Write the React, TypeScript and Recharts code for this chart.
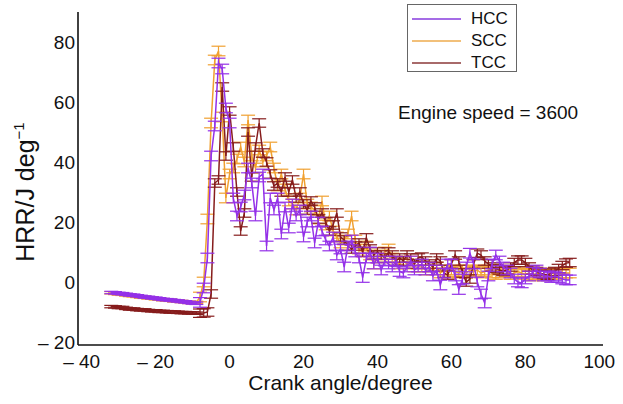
import { LineChart, Line, XAxis, YAxis, ErrorBar, Label } from "recharts";

const FONT = '"Liberation Sans", Arial, Helvetica, sans-serif';

// crank angle, degrees
const CRANK_ANGLE = [
  -32, -31, -30, -29, -28, -27, -26, -25, -24, -23,
  -22, -21, -20, -19, -18, -17, -16, -15, -14, -13,
  -12, -11, -10, -9, -8, -7, -6, -5, -4, -3,
  -2, -1, 0, 1, 2, 3, 4, 5, 6, 7,
  8, 9, 10, 11, 12, 13, 14, 15, 16, 17,
  18, 19, 20, 21, 22, 23, 24, 25, 26, 27,
  28, 29, 30, 31, 32, 33, 34, 35, 36, 37,
  38, 39, 40, 41, 42, 43, 44, 45, 46, 47,
  48, 49, 50, 51, 52, 53, 54, 55, 56, 57,
  58, 59, 60, 61, 62, 63, 64, 65, 66, 67,
  68, 69, 70, 71, 72, 73, 74, 75, 76, 77,
  78, 79, 80, 81, 82, 83, 84, 85, 86, 87,
  88, 89, 90, 91, 92,
];

// heat release rate, J/deg
const HCC = [
  -3.5, -3.6, -3.8, -3.9, -4.1, -4.3, -4.4, -4.6, -4.8, -5.0,
  -5.1, -5.3, -5.4, -5.6, -5.8, -5.9, -6.0, -6.2, -6.3, -6.5,
  -6.6, -6.8, -7.0, -7.1, -6.8, -2, 8, 42, 52, 73,
  71, 58, 53, 28, 22, 25, 29, 38, 33, 22,
  35, 36, 12, 28, 24, 28, 16, 25, 18, 26,
  22, 24, 15, 20, 22, 13, 20, 17, 14, 12,
  15, 9, 11, 5, 12, 14, 10, 8, 1.5, 8,
  10, 6, 8, 4, 7, 6, 5, 7, 3.5, 3,
  5, 7, 4, 5, 6, 4, 5, 2, 4, -1,
  3, 6, 6, 2, -2.5, 1, 5, 9.6, 6, 0,
  -4, -7, 2, 6, 9, 7, 5, 4, 3, 1,
  0, -0.3, 1, 2, 3.3, 4, 3, 2, 2, 1.5,
  2, 1.5, 1, 0.7, 0.7,
];

const SCC = [
  -3.6, -3.8, -4.0, -4.1, -4.3, -4.5, -4.6, -4.8, -5.0, -5.1,
  -5.3, -5.4, -5.6, -5.7, -5.9, -6.0, -6.1, -6.3, -6.4, -6.5,
  -6.6, -6.8, -6.9, -6.8, -5, 0, 21, 53, 74, 77,
  55, 28, 36, 38, 41, 45, 40, 54, 42, 38,
  44, 40, 42, 45, 38, 32, 36, 31, 27, 26,
  24, 28, 36, 26, 25, 24, 21, 27, 19, 22,
  17, 15, 13, 14, 16, 22, 14, 11, 10, 12,
  9, 6, 8, 9, 10, 11, 8, 7, 6, 7,
  6, 7, 5, 6, 5, 4, 5, 4, 5, 3,
  4, 3, 4, 3.5, 3, 4, 3, 4, 3.5, 4,
  3, 3.5, 4, 3, 2.5, 3, 4, 3.5, 2.5, 3,
  3.5, 3, 2.5, 3, 2, 2.5, 3, 2, 2.5, 3,
  2.5, 3, 2.5, 3, 3,
];

const TCC = [
  -8.2, -8.3, -8.5, -8.5, -8.8, -9.0, -9.0, -9.2, -9.3, -9.3,
  -9.5, -9.6, -9.6, -9.8, -9.8, -9.9, -10.0, -10.0, -10.1, -10.2,
  -10.2, -10.3, -10.3, -10.4, -10.4, -10.3, -10.0, -4, 33, 34,
  65, 42, 57, 45, 30, 17, 23, 50, 35, 45,
  53, 43, 40, 36, 32, 33, 30, 35, 30, 34,
  28, 30, 26, 24, 27, 25, 21, 23, 20, 17,
  19, 23, 15, 14, 12, 11, 12, 13, 10, 14.7,
  11, 9, 10, 9, 8, 10, 9, 7, 8, 7,
  9, 8, 6, 8, 8.3, 7, 6, 5, 8, 7,
  3, 2.3, 6, 9, 7, 3, 0, 1, 6, 9.6,
  9, 7, 6, 5, 4.5, 4, 3.5, 4, 5, 6.5,
  7.3, 7.3, 6.5, 5, 4, 3.5, 3, 2.5, 2.3, 3,
  3.5, 4.5, 5.5, 6.3, 6.5,
];

// half-width of the error bars (small before ignition)
const IGNITION = -8;
const PRE_ERR = 0.4;
const HCC_ERR = 1.6;
const SCC_ERR = 1.6;
const TCC_ERR = 1.4;

const X_TICKS = [-40, -20, 0, 20, 40, 60, 80, 100];
const Y_TICKS = [-20, 0, 20, 40, 60, 80];

const COLORS = { hcc: "#9430e8", scc: "#f0a030", tcc: "#861c1c" };

const data = CRANK_ANGLE.map((x, i) => {
  const pre = x < IGNITION;
  return {
    x,
    hcc: HCC[i],
    scc: SCC[i],
    tcc: TCC[i],
    hccErr: pre ? PRE_ERR : HCC_ERR,
    sccErr: pre ? PRE_ERR : SCC_ERR,
    tccErr: pre ? PRE_ERR : TCC_ERR,
  };
});

const fmt = (v: number) => (v < 0 ? `\u2013 ${Math.abs(v)}` : `${v}`);

const tickStyle = { fontSize: 19, fill: "#111", fontFamily: FONT };

const LEGEND = [
  { name: "HCC", color: "#a56ce6" },
  { name: "SCC", color: "#f2c07a" },
  { name: "TCC", color: "#a86a6a" },
];

export default function App() {
  return (
    <div
      style={{
        position: "absolute",
        left: 0,
        top: 0,
        width: 623,
        height: 404,
        background: "#fff",
        fontFamily: FONT,
      }}
    >
      <LineChart
        width={623}
        height={404}
        data={data}
        margin={{ top: 12, right: 20, bottom: 29, left: 0 }}
      >
        <XAxis
          dataKey="x"
          type="number"
          domain={[-41, 101]}
          ticks={X_TICKS}
          tickFormatter={fmt}
          tickLine={false}
          tickMargin={4}
          axisLine={{ stroke: "#111", strokeWidth: 1.6 }}
          tick={tickStyle}
          height={30}
          allowDataOverflow
        >
          <Label
            value="Crank angle/degree"
            position="bottom"
            offset={0}
            style={{ fontSize: 21, fill: "#111", fontFamily: FONT }}
          />
        </XAxis>
        <YAxis
          type="number"
          domain={[-21, 90]}
          ticks={Y_TICKS}
          tickFormatter={fmt}
          tickLine={false}
          tickSize={0}
          tickMargin={3}
          axisLine={{ stroke: "#111", strokeWidth: 1.6 }}
          tick={tickStyle}
          width={78}
          allowDataOverflow
        />
        <Line
          dataKey="scc"
          stroke={COLORS.scc}
          strokeWidth={1.5}
          dot={false}
          isAnimationActive={false}
        >
          <ErrorBar dataKey="sccErr" width={7} stroke={COLORS.scc} strokeWidth={1.2} direction="y" />
        </Line>
        <Line
          dataKey="tcc"
          stroke={COLORS.tcc}
          strokeWidth={1.5}
          dot={false}
          isAnimationActive={false}
        >
          <ErrorBar dataKey="tccErr" width={7} stroke={COLORS.tcc} strokeWidth={1.2} direction="y" />
        </Line>
        <Line
          dataKey="hcc"
          stroke={COLORS.hcc}
          strokeWidth={1.5}
          dot={false}
          isAnimationActive={false}
        >
          <ErrorBar dataKey="hccErr" width={7} stroke={COLORS.hcc} strokeWidth={1.2} direction="y" />
        </Line>
      </LineChart>

      {/* y axis title */}
      <div
        style={{
          position: "absolute",
          left: 25,
          top: 192,
          transform: "translate(-50%, -50%) rotate(-90deg)",
          whiteSpace: "nowrap",
          fontSize: 25,
          color: "#111",
        }}
      >
        HRR/J deg<sup style={{ fontSize: 15 }}>{"\u22121"}</sup>
      </div>

      <div
        style={{
          position: "absolute",
          left: 398,
          top: 102,
          fontSize: 19,
          color: "#111",
          whiteSpace: "nowrap",
        }}
      >
        Engine speed = 3600
      </div>

      {/* legend box */}
      <div
        style={{
          position: "absolute",
          left: 407,
          top: 4,
          width: 108,
          height: 66,
          border: "1px solid #666",
          background: "#fff",
        }}
      >
        {LEGEND.map((item, i) => (
          <div
            key={item.name}
            style={{
              position: "absolute",
              left: 4,
              top: 4 + i * 22,
              height: 20,
              display: "flex",
              alignItems: "center",
            }}
          >
            <div style={{ width: 49, height: 2, background: item.color }} />
            <span style={{ marginLeft: 10, fontSize: 17, color: "#111" }}>{item.name}</span>
          </div>
        ))}
      </div>
    </div>
  );
}
